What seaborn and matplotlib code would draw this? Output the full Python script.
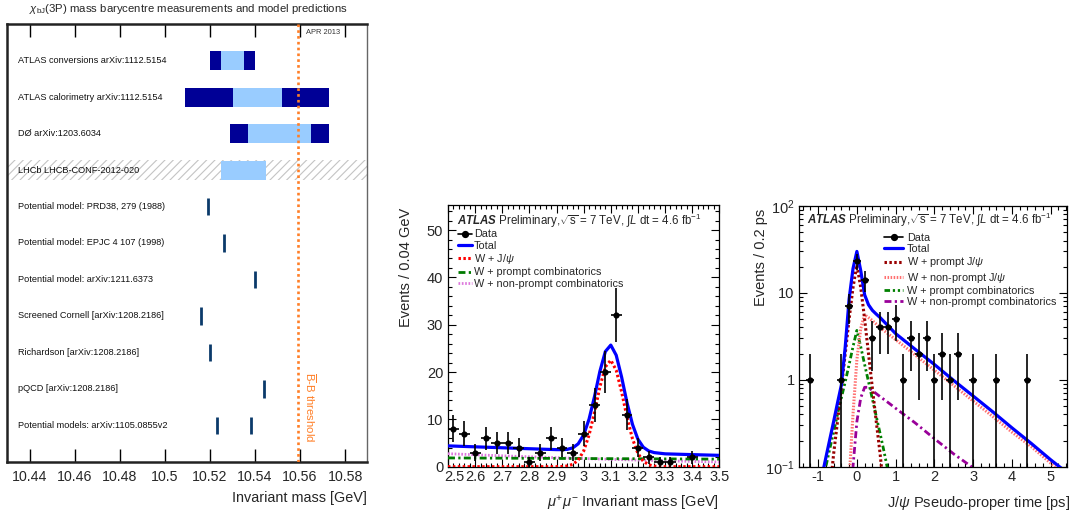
import numpy as np
import pandas as pd
import matplotlib
matplotlib.use("Agg")
import matplotlib.pyplot as plt
import matplotlib.transforms as mtransforms
import seaborn as sns
from matplotlib.lines import Line2D
from matplotlib.ticker import MultipleLocator, FixedLocator, FixedFormatter, FuncFormatter, LogLocator, NullFormatter

sns.set_theme(style="ticks")
plt.rcParams["font.family"] = ["Liberation Sans", "DejaVu Sans"]
plt.rcParams["mathtext.fontset"] = "custom"
plt.rcParams["mathtext.rm"] = "Liberation Sans"
plt.rcParams["mathtext.it"] = "Liberation Sans:italic"
plt.rcParams["mathtext.bf"] = "Liberation Sans:bold"
plt.rcParams["mathtext.bfit"] = "Liberation Sans:italic:bold"
plt.rcParams["hatch.linewidth"] = 0.8

# ---------------- chi_bJ(3P) mass summary ----------------
meas_labels = ["ATLAS conversions arXiv:1112.5154",
               "ATLAS calorimetry arXiv:1112.5154",
               "DØ arXiv:1203.6034",
               "LHCb LHCB-CONF-2012-020"]
meas_central = [10.530, 10.541, 10.551, 10.535]
meas_stat = [0.005, 0.011, 0.014, 0.010]
meas_total = [0.010, 0.032, 0.022, np.nan]

model_labels = ["Potential model: PRD38, 279 (1988)",
                "Potential model: EPJC 4 107 (1998)",
                "Potential model: arXiv:1211.6373",
                "Screened Cornell [arXiv:1208.2186]",
                "Richardson [arXiv:1208.2186]",
                "pQCD [arXiv:1208.2186]",
                "Potential models: arXiv:1105.0855v2"]
model_values = [[10.519], [10.526], [10.540], [10.516], [10.520], [10.544], [10.523, 10.538]]

bb_threshold = 10.559
mass_ticks = [10.44, 10.46, 10.48, 10.50, 10.52, 10.54, 10.56, 10.58]

# ---------------- W + J/psi : dimuon mass ----------------
mass_bins = [2.52, 2.56, 2.60, 2.64, 2.68, 2.72, 2.76, 2.80, 2.84, 2.88, 2.92, 2.96, 3.00,
             3.04, 3.08, 3.12, 3.16, 3.20, 3.24, 3.28, 3.32, 3.36, 3.40, 3.44, 3.48]
mass_counts = [8, 7, 3, 6, 5, 5, 4, 1, 3, 6, 4, 3, 7, 13, 20, 32, 11, 4, 2, 1, 1, 0, 2, 0, 0]

mass_grid = [2.50, 2.60, 2.70, 2.80, 2.86, 2.90, 2.92, 2.94, 2.96, 2.98, 3.00, 3.02, 3.04, 3.06,
             3.08, 3.10, 3.12, 3.14, 3.16, 3.18, 3.20, 3.22, 3.24, 3.26, 3.28, 3.30, 3.40, 3.50]
mass_total = [4.40, 4.20, 4.00, 3.80, 3.68, 3.61, 3.60, 3.67, 3.98, 4.84, 6.70, 10.06, 14.82, 20.18,
              24.34, 25.70, 23.56, 18.92, 13.48, 8.94, 5.80, 4.11, 3.32, 2.98, 2.85, 2.72, 2.55, 2.40]
mass_jpsi = [0.0, 0.0, 0.0, 0.0, 0.0, 0.01, 0.04, 0.15, 0.50, 1.40, 3.30, 6.70, 11.50, 16.90,
             21.10, 22.50, 20.40, 15.80, 10.40, 5.90, 2.80, 1.15, 0.40, 0.12, 0.03, 0.0, 0.0, 0.0]
comb_grid = [2.5, 2.7, 2.9, 3.1, 3.3, 3.5]
mass_prompt_comb = [1.85, 1.80, 1.75, 1.70, 1.65, 1.60]
mass_nonprompt_comb = [2.75, 2.30, 1.90, 1.55, 1.25, 1.00]

# ---------------- W + J/psi : pseudo-proper time ----------------
time_bins = [-1.2, -0.4, -0.2, 0.0, 0.2, 0.4, 0.6, 0.8, 1.0, 1.2, 1.4, 1.6, 1.8, 2.0, 2.2, 2.4, 2.6, 3.0, 3.6, 4.4]
time_counts = [1, 1, 7, 23, 14, 3, 4, 4, 5, 1, 3, 2, 3, 1, 2, 1, 2, 1, 1, 1]

total_t = [-1.0, -0.9, -0.8, -0.7, -0.6, -0.5, -0.4, -0.3, -0.2, -0.1, 0.0, 0.1, 0.2, 0.3, 0.4,
           0.5, 0.6, 0.8, 1.0, 1.5, 2.0, 2.5, 3.0, 3.5, 4.0, 4.5, 5.0, 5.5]
time_total = [0.047, 0.078, 0.127, 0.205, 0.33, 0.54, 0.87, 2.4, 8.5, 19.0, 30.0, 18.0, 9.5, 7.3, 6.3,
              5.7, 5.2, 4.2, 3.4, 2.25, 1.5, 0.98, 0.65, 0.43, 0.28, 0.185, 0.12, 0.08]
prompt_jpsi_t = [-0.8, -0.7, -0.6, -0.5, -0.4, -0.3, -0.2, -0.1, 0.0, 0.1, 0.2, 0.3, 0.4, 0.5, 0.6, 0.7, 0.8]
prompt_jpsi = [0.015, 0.05, 0.14, 0.33, 0.8, 2.0, 5.0, 11.5, 21.0, 11.5, 5.0, 2.0, 0.8, 0.33, 0.14, 0.05, 0.015]
nonprompt_jpsi_t = [-0.3, -0.2, -0.1, 0.0, 0.1, 0.2, 0.3, 0.4, 0.6, 0.8, 1.0, 1.5, 2.0, 2.5, 3.0, 3.5,
                    4.0, 4.5, 5.0, 5.5]
nonprompt_jpsi = [0.01, 0.07, 0.4, 1.7, 3.9, 5.6, 5.2, 4.8, 4.0, 3.4, 2.9, 1.94, 1.29, 0.86, 0.57, 0.38,
                  0.25, 0.17, 0.11, 0.074]
prompt_comb_t = [-1.0, -0.9, -0.8, -0.7, -0.6, -0.5, -0.4, -0.3, -0.2, -0.1, 0.0, 0.1, 0.2, 0.3, 0.4,
                 0.5, 0.6, 0.7, 0.8, 0.9]
prompt_comb = [0.04, 0.065, 0.1, 0.16, 0.25, 0.4, 0.62, 0.95, 1.5, 2.4, 3.7, 2.4, 1.5, 0.95, 0.6,
               0.38, 0.24, 0.15, 0.09, 0.055]
nonprompt_comb_t = [-0.3, -0.2, -0.1, 0.0, 0.1, 0.2, 0.3, 0.4, 0.6, 0.8, 1.0, 1.5, 2.0, 2.5, 3.0, 3.5, 4.0]
nonprompt_comb = [0.01, 0.03, 0.1, 0.33, 0.62, 0.82, 0.82, 0.75, 0.64, 0.55, 0.47, 0.32, 0.21, 0.14,
                  0.097, 0.065, 0.044]

# ---------------- styling ----------------
DARK_BAND = "#000096"
LIGHT_BAND = "#99ccff"
MODEL_COL = "#0b3a6a"
THRESH_COL = "#ff7f27"

fig = plt.figure(figsize=(10.74, 5.16), dpi=100)
ax1 = fig.add_axes([0.00652, 0.10523, 0.3349, 0.8477])
ax2 = fig.add_axes([0.41713, 0.09554, 0.25261, 0.50717])
ax3 = fig.add_axes([0.74441, 0.09554, 0.24907, 0.50523])

# ===== left panel =====
rows = meas_labels + model_labels
row_y = {lab: i + 1 for i, lab in enumerate(rows)}
lhcb_y = row_y[meas_labels[3]]
ax1.axhspan(lhcb_y - 0.27, lhcb_y + 0.27, facecolor="none", edgecolor="#c4c4c4", hatch="////", lw=0, zorder=0)

meas_df = pd.DataFrame({"label": meas_labels, "central": meas_central,
                        "stat": meas_stat, "total": meas_total})
meas_df["y"] = meas_df["label"].map(row_y)
has_tot = meas_df.dropna(subset=["total"])
ax1.barh(has_tot["y"], 2 * has_tot["total"], left=has_tot["central"] - has_tot["total"],
         height=0.52, color=DARK_BAND, lw=0, zorder=2)
ax1.barh(meas_df["y"], 2 * meas_df["stat"], left=meas_df["central"] - meas_df["stat"],
         height=0.52, color=LIGHT_BAND, lw=0, zorder=3)

model_df = pd.DataFrame([(lab, v) for lab, vals in zip(model_labels, model_values) for v in vals],
                        columns=["label", "mass"])
model_df["y"] = model_df["label"].map(row_y)
ax1.vlines(model_df["mass"], model_df["y"] - 0.24, model_df["y"] + 0.24, color=MODEL_COL, lw=2.0, zorder=3)

for lab in rows:
    ax1.text(10.4347, row_y[lab], lab, ha="left", va="center", fontsize=6.6, color="#111111")

ax1.axvline(bb_threshold, color=THRESH_COL, lw=1.9, ls=(0, (1, 1.2)), zorder=4)
ax1.text(10.5644, 10.51, r"$\overline{\mathrm{B}}$-B threshold", rotation=270, ha="center", va="center",
         fontsize=8.2, color=THRESH_COL)
ax1.text(10.5702, 0.22, "APR 2013", ha="center", va="center", fontsize=5.4, color="#333333")

ax1.set_xlim(10.4298, 10.5896)
ax1.set_ylim(12, 0)
ax1.set_yticks([])
ax1.xaxis.set_major_locator(FixedLocator(mass_ticks))
ax1.xaxis.set_major_formatter(FuncFormatter(lambda v, p: f"{v:g}"))
ax1.tick_params(axis="x", which="major", direction="in", length=9.5, width=1.0, top=True, bottom=True,
                labelsize=10.2, pad=6, color="black")
for side in ["left", "top", "bottom"]:
    ax1.spines[side].set_linewidth(1.8)
    ax1.spines[side].set_color("#222222")
ax1.spines["right"].set_linewidth(1.0)
ax1.spines["right"].set_color("#666666")
ax1.set_xlabel("Invariant mass [GeV]", fontsize=10.4, ha="right")
ax1.xaxis.set_label_coords(1.0, -0.066)
fig.text(188 / 1074, 1 - 9 / 516, r"$\chi_{\mathrm{bJ}}$(3P) mass barycentre measurements and model predictions",
         ha="center", va="center", fontsize=8.2)

# ===== shared helpers for the two ATLAS panels =====
def root_ticks(ax):
    ax.tick_params(which="both", direction="in", top=True, right=True, color="black", labelsize=10.5)
    ax.tick_params(which="major", length=5.8, width=0.8)
    ax.tick_params(which="minor", length=2.9, width=0.8)
    ax.tick_params(axis="x", pad=2.5)
    ax.tick_params(axis="y", pad=3.5)
    for s in ax.spines.values():
        s.set_linewidth(0.9)
        s.set_color("black")

atlas_text = (r"$\mathbfit{ATLAS}$ Preliminary,$\sqrt{\mathrm{s}}$ = 7 TeV, $\int L$ dt = 4.6 fb$^{-1}$")

# ===== middle panel: mass =====
mass_df = pd.DataFrame({"mass": mass_bins, "events": mass_counts})
mshown = mass_df[mass_df["events"] > 0]
sns.lineplot(x=comb_grid, y=mass_nonprompt_comb, ax=ax2, color="#dd77dd", linewidth=2.0,
             linestyle=(0, (0.6, 0.6)), zorder=3)
sns.lineplot(x=comb_grid, y=mass_prompt_comb, ax=ax2, color="#007a00", linewidth=2.0,
             linestyle=(0, (2.5, 1.2, 0.8, 1.2)), zorder=3)
sns.lineplot(x=mass_grid, y=mass_jpsi, ax=ax2, color="#ff0000", linewidth=2.2,
             linestyle=(0, (0.8, 0.8)), zorder=3)
sns.lineplot(x=mass_grid, y=mass_total, ax=ax2, color="#0000ff", linewidth=2.3, zorder=4)
ax2.errorbar(mshown["mass"], mshown["events"], xerr=0.02, yerr=np.sqrt(mshown["events"]),
             fmt="none", ecolor="black", elinewidth=1.2, capsize=0, zorder=5)
sns.scatterplot(data=mshown, x="mass", y="events", ax=ax2, color="black", s=20, edgecolor="black",
                linewidth=0, zorder=6)
ax2.set_xlim(2.5, 3.5)
ax2.set_ylim(0, 55.3)
ax2.xaxis.set_major_locator(MultipleLocator(0.1))
ax2.xaxis.set_minor_locator(MultipleLocator(0.02))
ax2.xaxis.set_major_formatter(FuncFormatter(lambda v, p: f"{v:g}"))
ax2.yaxis.set_major_locator(MultipleLocator(10))
ax2.yaxis.set_minor_locator(MultipleLocator(2))
root_ticks(ax2)
ax2.set_xlabel(r"$\mu^{+}\mu^{-}$ Invariant mass [GeV]", fontsize=10.5, ha="right")
ax2.xaxis.set_label_coords(1.0, -0.105)
ax2.set_ylabel("Events / 0.04 GeV", fontsize=10.5, ha="right")
ax2.yaxis.set_label_coords(-0.129, 0.99)
ax2.text(0.032, 0.9377, atlas_text, transform=ax2.transAxes, fontsize=8.3, ha="left", va="center")

mid_handles = [Line2D([], [], color="black", marker="o", ms=4.2, lw=1.2),
               Line2D([], [], color="#0000ff", lw=2.3),
               Line2D([], [], color="#ff0000", lw=2.2, ls=(0, (0.8, 0.8))),
               Line2D([], [], color="#007a00", lw=2.0, ls=(0, (2.5, 1.2, 0.8, 1.2))),
               Line2D([], [], color="#dd77dd", lw=2.0, ls=(0, (0.6, 0.6)))]
mid_labels = ["Data", "Total", r"W + J/$\psi$", "W + prompt combinatorics", "W + non-prompt combinatorics"]
ax2.legend(mid_handles, mid_labels, loc="upper left", bbox_to_anchor=(0.038, 0.9064), frameon=False,
           fontsize=7.85, handlelength=1.28, handletextpad=0.16, labelspacing=0.12,
           borderpad=0, borderaxespad=0)

# the lowest mass label sits a little right of its tick, clear of the "0"
mass_locs = list(ax2.xaxis.get_majorticklocs())
low_idx = int(np.argmin([abs(v - ax2.get_xlim()[0]) for v in mass_locs]))
low_tick = ax2.xaxis.get_major_ticks()[low_idx]
low_tick.label1.set_transform(low_tick.label1.get_transform()
                              + mtransforms.ScaledTranslation(6 / 100, 0, fig.dpi_scale_trans))

# ===== right panel: pseudo-proper time =====
ax3.set_yscale("log")
time_df = pd.DataFrame({"t": time_bins, "events": time_counts})
sns.lineplot(x=nonprompt_comb_t, y=nonprompt_comb, ax=ax3, color="#990099", linewidth=2.0,
             linestyle=(0, (2.5, 1.2, 0.8, 1.2)), zorder=3)
sns.lineplot(x=prompt_comb_t, y=prompt_comb, ax=ax3, color="#008000", linewidth=2.0,
             linestyle=(0, (2.0, 1.0, 0.8, 1.0, 0.8, 1.0)), zorder=3)
sns.lineplot(x=nonprompt_jpsi_t, y=nonprompt_jpsi, ax=ax3, color="#ff7070", linewidth=2.2,
             linestyle=(0, (0.5, 0.5)), zorder=3)
sns.lineplot(x=prompt_jpsi_t, y=prompt_jpsi, ax=ax3, color="#990000", linewidth=2.2,
             linestyle=(0, (0.8, 0.8)), zorder=3)
sns.lineplot(x=total_t, y=time_total, ax=ax3, color="#0000ff", linewidth=2.3, zorder=4)
ax3.errorbar(time_df["t"], time_df["events"], xerr=0.1, yerr=np.sqrt(time_df["events"]),
             fmt="none", ecolor="black", elinewidth=1.2, capsize=0, zorder=5)
sns.scatterplot(data=time_df, x="t", y="events", ax=ax3, color="black", s=20, edgecolor="black",
                linewidth=0, zorder=6)
ax3.set_xlim(-1.48, 5.42)
ax3.set_ylim(0.1, 100)
ax3.xaxis.set_major_locator(MultipleLocator(1))
ax3.xaxis.set_minor_locator(MultipleLocator(0.2))
ax3.xaxis.set_major_formatter(FuncFormatter(lambda v, p: f"{v:g}"))
ax3.yaxis.set_major_locator(FixedLocator([0.1, 1, 10, 100]))
ax3.yaxis.set_major_formatter(FixedFormatter([r"$10^{-1}$", "1", "10", r"$10^{2}$"]))
ax3.yaxis.set_minor_locator(LogLocator(base=10, subs=np.arange(2, 10)))
ax3.yaxis.set_minor_formatter(NullFormatter())
root_ticks(ax3)
ax3.set_xlabel(r"J/$\psi$ Pseudo-proper time [ps]", fontsize=10.5, ha="right")
ax3.xaxis.set_label_coords(1.01, -0.105)
ax3.set_ylabel("Events / 0.2 ps", fontsize=10.5, ha="right")
ax3.yaxis.set_label_coords(-0.118, 0.99)
ax3.text(0.027, 0.9463, atlas_text, transform=ax3.transAxes, fontsize=8.3, ha="left", va="center")

right_handles = [Line2D([], [], color="black", marker="o", ms=4.2, lw=1.2),
                 Line2D([], [], color="#0000ff", lw=2.3),
                 Line2D([], [], color="#990000", lw=2.2, ls=(0, (0.8, 0.8))),
                 Line2D([], [], color="#ff7070", lw=2.2, ls=(0, (0.5, 0.5))),
                 Line2D([], [], color="#008000", lw=2.0, ls=(0, (2.0, 1.0, 0.8, 1.0, 0.8, 1.0))),
                 Line2D([], [], color="#990099", lw=2.0, ls=(0, (2.5, 1.2, 0.8, 1.2)))]
right_labels = ["Data", "Total", r"W + prompt J/$\psi$", r"W + non-prompt J/$\psi$",
                "W + prompt combinatorics", "W + non-prompt combinatorics"]
ax3.legend(right_handles, right_labels, loc="upper left", bbox_to_anchor=(0.317, 0.8965), frameon=False,
           fontsize=7.85, handlelength=1.74, handletextpad=0.31, labelspacing=0.11,
           borderpad=0, borderaxespad=0)

fig.savefig("out.png", dpi=100)
